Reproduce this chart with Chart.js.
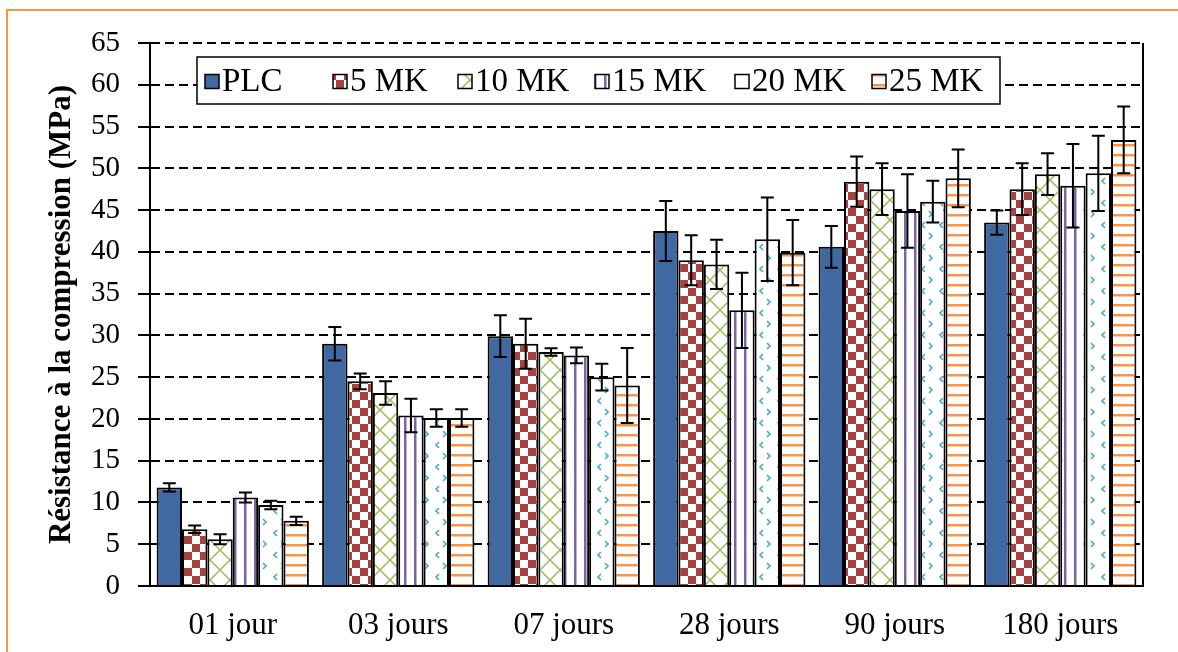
<!DOCTYPE html>
<html>
<head>
<meta charset="utf-8">
<script src="https://cdn.jsdelivr.net/npm/chart.js@4/dist/chart.umd.min.js"></script>
<style>
  body { margin: 0; background: #fff; }
  #wrap { position: relative; width: 1178px; height: 652px; overflow: hidden; }
  #frame { position: absolute; left: 6px; top: 9px; width: 1200px; height: 700px;
           border-left: 2px solid #F79646; border-top: 2px solid #F79646; }
  #chart { position: absolute; left: 0; top: 0; }
</style>
</head>
<body>
<div id="wrap">
  <div id="frame"></div>
  <canvas id="chart" width="1178" height="652"></canvas>
</div>
<script>
// ages of the samples
const ages = ['01 jour', '03 jours', '07 jours', '28 jours', '90 jours', '180 jours'];
const seriesNames = ['PLC', '5 MK', '10 MK', '15 MK', '20 MK', '25 MK'];

// mean compressive strength (MPa)
const plc  = [11.8, 29.0, 29.9, 42.5, 40.6, 43.5];
const mk5  = [6.8, 24.5, 29.0, 39.0, 48.4, 47.5];
const mk10 = [5.6, 23.1, 28.0, 38.5, 47.5, 49.3];
const mk15 = [10.6, 20.4, 27.6, 33.0, 44.9, 47.9];
const mk20 = [9.7, 20.1, 25.0, 41.5, 46.0, 49.4];
const mk25 = [7.8, 20.1, 24.0, 39.9, 48.8, 53.4];

// standard deviations
const plcErr  = [0.5, 2.0, 2.5, 3.6, 2.5, 1.45];
const mk5Err  = [0.45, 0.95, 3.0, 3.0, 3.0, 3.1];
const mk10Err = [0.6, 1.4, 0.45, 2.95, 3.1, 2.5];
const mk15Err = [0.6, 2.0, 0.95, 4.5, 4.4, 5.0];
const mk20Err = [0.5, 1.05, 1.6, 5.0, 2.5, 4.5];
const mk25Err = [0.5, 1.05, 4.5, 3.9, 3.45, 4.0];

const yTicks = { min: 0, max: 65, step: 5 };

const canvas = document.getElementById('chart');
const ctx = canvas.getContext('2d');

function makePattern(w, h, draw) {
    const c = document.createElement('canvas');
    c.width = w; c.height = h;
    const g = c.getContext('2d');
    g.fillStyle = '#fff';
    g.fillRect(0, 0, w, h);
    draw(g);
    return ctx.createPattern(c, 'repeat');
}

const fills = [
    '#4169A1',
    // checkerboard
    makePattern(16, 16, g => {
        g.fillStyle = '#A8423F';
        g.fillRect(0, 0, 8, 8);
        g.fillRect(8, 8, 8, 8);
    }),
    // trellis
    makePattern(20, 20, g => {
        g.strokeStyle = '#9BBB59';
        g.lineWidth = 1.5;
        g.beginPath();
        g.moveTo(0, 10); g.lineTo(10, 0); g.lineTo(20, 10); g.lineTo(10, 20); g.closePath();
        g.stroke();
    }),
    // vertical stripes
    makePattern(10, 4, g => {
        g.fillStyle = '#8064A2';
        g.fillRect(4, 0, 2.5, 4);
    }),
    // little chevrons
    makePattern(18, 22, g => {
        g.strokeStyle = '#4BACC6';
        g.lineWidth = 1.7;
        g.beginPath();
        g.moveTo(7, 2); g.lineTo(4, 5); g.lineTo(7, 8);
        g.moveTo(11, 13); g.lineTo(14, 16); g.lineTo(11, 19);
        g.stroke();
    }),
    // horizontal stripes
    makePattern(4, 10, g => {
        g.fillStyle = '#F79646';
        g.fillRect(0, 4, 4, 2.5);
    })
];

const values = [plc, mk5, mk10, mk15, mk20, mk25];
const errors = [plcErr, mk5Err, mk10Err, mk15Err, mk20Err, mk25Err];

const datasets = seriesNames.map((name, i) => ({
    label: name,
    data: values[i],
    errors: errors[i],
    backgroundColor: fills[i],
    borderColor: '#000',
    borderWidth: 2,
    categoryPercentage: 0.92,
    barPercentage: 1.0
}));

// swatch x position of each legend entry
const legendSlots = [205, 333, 458, 595, 735, 872];

const extras = {
    id: 'extras',
    afterDatasetsDraw(chart) {
        const c = chart.ctx;
        const y = chart.scales.y;
        const area = chart.chartArea;

        // error bars
        c.save();
        c.strokeStyle = '#000';
        c.lineWidth = 2;
        chart.data.datasets.forEach((ds, di) => {
            const meta = chart.getDatasetMeta(di);
            meta.data.forEach((bar, i) => {
                const top = y.getPixelForValue(ds.data[i] + ds.errors[i]);
                const bot = y.getPixelForValue(ds.data[i] - ds.errors[i]);
                c.beginPath();
                c.moveTo(bar.x, top); c.lineTo(bar.x, bot);
                c.moveTo(bar.x - 6.5, top); c.lineTo(bar.x + 6.5, top);
                c.moveTo(bar.x - 6.5, bot); c.lineTo(bar.x + 6.5, bot);
                c.stroke();
            });
        });

        // right edge of the plot
        c.beginPath();
        c.moveTo(area.right, area.top);
        c.lineTo(area.right, area.bottom);
        c.stroke();

        // legend box
        const box = { left: 197, top: 57, right: 1000, bottom: 104 };
        c.fillStyle = '#fff';
        c.fillRect(box.left, box.top, box.right - box.left, box.bottom - box.top);
        c.lineWidth = 1.5;
        c.strokeRect(box.left, box.top, box.right - box.left, box.bottom - box.top);

        c.font = '33px "Liberation Serif"';
        c.textBaseline = 'middle';
        const sw = 14;
        const cy = (box.top + box.bottom) / 2 + 1;
        chart.data.datasets.forEach((ds, i) => {
            const x = legendSlots[i];
            c.fillStyle = ds.backgroundColor;
            c.fillRect(x, cy - sw / 2, sw, sw);
            c.lineWidth = 1.5;
            c.strokeStyle = '#000';
            c.strokeRect(x, cy - sw / 2, sw, sw);
            c.fillStyle = '#000';
            c.fillText(ds.label, x + sw + 3, cy + 1);
        });
        c.restore();
    }
};

new Chart(ctx, {
    type: 'bar',
    data: { labels: ages, datasets: datasets },
    options: {
        responsive: false,
        animation: false,
        layout: { padding: { top: 43, right: 35, left: 0, bottom: 0 } },
        plugins: {
            legend: { display: false },
            tooltip: { enabled: false }
        },
        scales: {
            x: {
                grid: { display: false },
                border: { display: true, color: '#000', width: 2 },
                ticks: {
                    color: '#000',
                    padding: 13,
                    font: { family: 'Liberation Serif', size: 31 }
                },
                afterFit: s => { s.height = 66; }
            },
            y: {
                min: yTicks.min,
                max: yTicks.max,
                grid: {
                    color: '#000',
                    lineWidth: 2,
                    tickLength: 12,
                    tickColor: '#000',
                    tickWidth: 2,
                    tickBorderDash: []
                },
                border: { display: true, color: '#000', width: 2, dash: [9, 5] },
                ticks: {
                    stepSize: yTicks.step,
                    color: '#000',
                    padding: 18,
                    font: { family: 'Liberation Serif', size: 29 }
                },
                title: {
                    display: true,
                    text: 'Résistance à la compression (MPa)',
                    color: '#000',
                    font: { family: 'Liberation Serif', size: 31, weight: 'bold' },
                    padding: { top: 43, bottom: 0 }
                },
                afterFit: s => { s.width = 150; }
            }
        }
    },
    plugins: [extras]
});
</script>
</body>
</html>
